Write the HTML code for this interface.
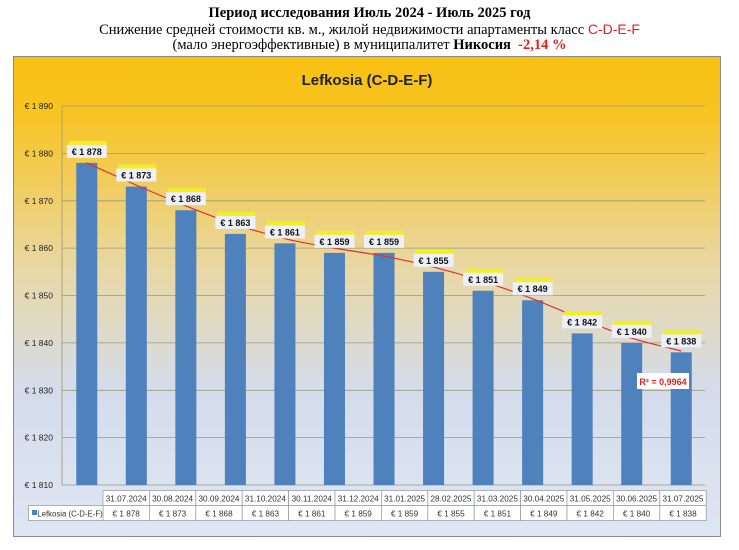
<!DOCTYPE html>
<html><head><meta charset="utf-8"><style>
body{margin:0;background:#fff;width:739px;height:550px;overflow:hidden;font-family:"Liberation Serif",serif}
.t{position:absolute;left:0;width:739px;text-align:center;font-size:14.5px;line-height:16px;color:#000}
</style></head><body>
<div class="t" style="top:5px;font-weight:bold">Период исследования Июль 2024 - Июль 2025 год</div>
<div class="t" style="top:21px">Снижение средней стоимости кв. м., жилой недвижимости апартаменты класс <span style="color:#e02020;font-family:'Liberation Sans',sans-serif;font-size:14px">C-D-E-F</span></div>
<div class="t" style="top:37px">(мало энергоэффективные) в муниципалитет <b>Никосия</b> &nbsp;<b style="color:#e02020">-2,14 %</b></div>
<svg width="739" height="550" style="position:absolute;left:0;top:0" xmlns="http://www.w3.org/2000/svg" font-family="Liberation Sans, sans-serif">
<defs><linearGradient id="g" x1="0" y1="0" x2="0" y2="1">
<stop offset="0" stop-color="#f8c010"/><stop offset="0.12" stop-color="#f8c423"/><stop offset="0.45" stop-color="#e8d8a8"/><stop offset="0.7" stop-color="#d4dcec"/><stop offset="1" stop-color="#dfe6f2"/></linearGradient></defs>
<rect x="13.5" y="56.5" width="707" height="480" fill="url(#g)" stroke="#8a8a8a"/>
<text x="367" y="85" text-anchor="middle" font-size="15" font-weight="bold" fill="#222">Lefkosia (C-D-E-F)</text>
<g stroke="#9a9a7a" stroke-width="0.8">
<line x1="62" x2="705" y1="106" y2="106"/><line x1="62" x2="705" y1="153.4" y2="153.4"/><line x1="62" x2="705" y1="200.8" y2="200.8"/><line x1="62" x2="705" y1="248.1" y2="248.1"/><line x1="62" x2="705" y1="295.5" y2="295.5"/><line x1="62" x2="705" y1="342.9" y2="342.9"/><line x1="62" x2="705" y1="390.3" y2="390.3"/><line x1="62" x2="705" y1="437.6" y2="437.6"/><line x1="62" x2="705" y1="485" y2="485"/>
<line x1="62" x2="62" y1="106" y2="485"/>
</g>
<g font-size="8.5" fill="#222" text-anchor="end">
<text x="53" y="109">€ 1 890</text><text x="53" y="156.4">€ 1 880</text><text x="53" y="203.8">€ 1 870</text><text x="53" y="251.1">€ 1 860</text><text x="53" y="298.5">€ 1 850</text><text x="53" y="345.9">€ 1 840</text><text x="53" y="393.3">€ 1 830</text><text x="53" y="440.6">€ 1 820</text><text x="53" y="488">€ 1 810</text>
</g>
<g fill="#4f81bd" id="bars"></g>
<path id="tr" fill="none" stroke="#e0303a" stroke-width="1.2"/>
<g id="lbl" font-size="9" font-weight="bold" fill="#111" text-anchor="middle"></g>
<rect x="637" y="373" width="52" height="16" fill="#fff"/>
<text x="663" y="385" text-anchor="middle" font-size="9" font-weight="bold" fill="#e02020">R² = 0,9964</text>
<g id="tbl" font-size="8.2" fill="#333" text-anchor="middle"></g>
</svg>
<script>
var v=[1878,1873,1868,1863,1861,1859,1859,1855,1851,1849,1842,1840,1838];
var d=["31.07.2024","30.08.2024","30.09.2024","31.10.2024","30.11.2024","31.12.2024","31.01.2025","28.02.2025","31.03.2025","30.04.2025","31.05.2025","30.06.2025","31.07.2025"];
var tr=[1878,1873.3,1868.9,1865,1862,1860,1858.3,1856,1853,1849.3,1845,1841,1838.3];
var ns="http://www.w3.org/2000/svg";
function Y(x){return 485-(x-1810)*4.7375}
function el(p,t,a,txt){var e=document.createElementNS(ns,t);for(var k in a)e.setAttribute(k,a[k]);if(txt)e.textContent=txt;document.getElementById(p).appendChild(e);}
var P=[];
for(var i=0;i<13;i++){var c=62+49.54*(i+0.5),y=Y(v[i]);
el("bars","rect",{x:c-10.5,y:y,width:21,height:485-y});
P.push([c,Y(tr[i])]);
var bx=c-20,by=y-20;
el("lbl","rect",{x:bx+2,y:by-2,width:38,height:4,fill:"#f0f020"});
el("lbl","rect",{x:bx,y:by+2,width:40,height:13,fill:"#eef0f8"});
el("lbl","text",{x:c,y:by+12},"€ "+String(v[i]).replace(/^1/,"1 "));
var tx=103+46.4*i;
el("tbl","rect",{x:tx,y:490.5,width:46.4,height:15,fill:"#fff",stroke:"#9aa0b0","stroke-width":0.8});
el("tbl","rect",{x:tx,y:505.5,width:46.4,height:15,fill:"#fff",stroke:"#9aa0b0","stroke-width":0.8});
el("tbl","text",{x:tx+23.2,y:501.5},d[i]);
el("tbl","text",{x:tx+23.2,y:516.5},"€ "+String(v[i]).replace(/^1/,"1 "));}
var pd="M"+P[0][0]+","+P[0][1];
for(var i=0;i<12;i++){var p0=P[Math.max(0,i-1)],p1=P[i],p2=P[i+1],p3=P[Math.min(12,i+2)];
pd+="C"+(p1[0]+(p2[0]-p0[0])/6)+","+(p1[1]+(p2[1]-p0[1])/6)+" "+(p2[0]-(p3[0]-p1[0])/6)+","+(p2[1]-(p3[1]-p1[1])/6)+" "+p2[0]+","+p2[1];}
document.getElementById("tr").setAttribute("d",pd);
el("tbl","rect",{x:28.5,y:505.5,width:74.5,height:15,fill:"#fff",stroke:"#9aa0b0","stroke-width":0.8});
el("tbl","rect",{x:32,y:510,width:5,height:5,fill:"#4f81bd"});
el("tbl","text",{x:70,y:516.5,"font-size":7.8},"Lefkosia (C-D-E-F)");
</script>
</body></html>
